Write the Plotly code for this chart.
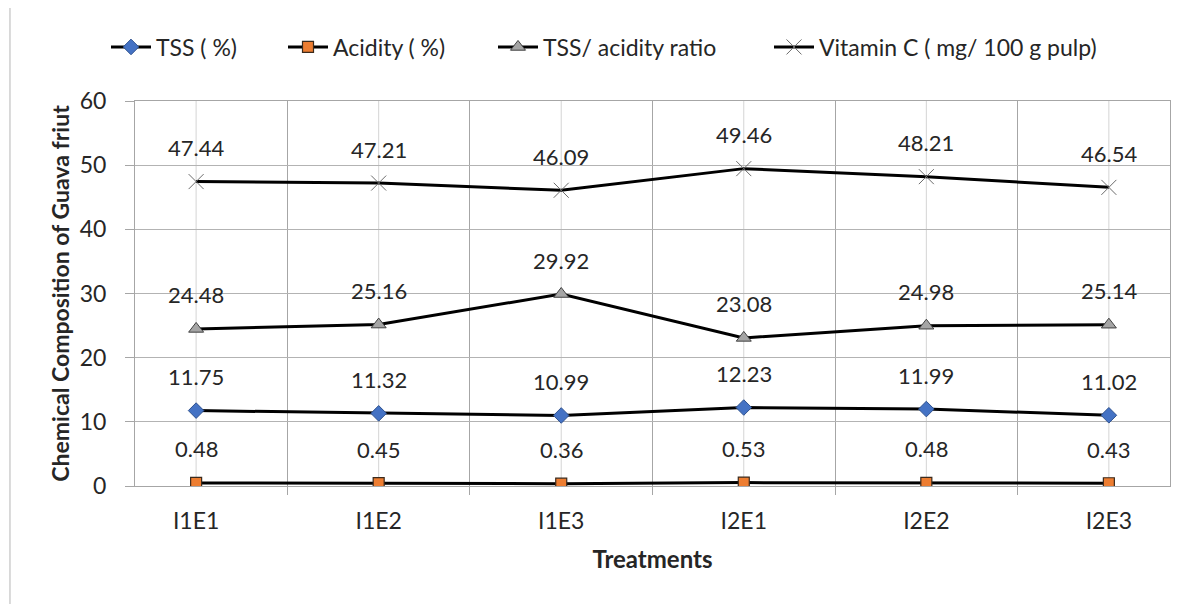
import plotly.graph_objects as go

treatments = ["I1E1", "I1E2", "I1E3", "I2E1", "I2E2", "I2E3"]
tss = [11.75, 11.32, 10.99, 12.23, 11.99, 11.02]
acidity = [0.48, 0.45, 0.36, 0.53, 0.48, 0.43]
ratio = [24.48, 25.16, 29.92, 23.08, 24.98, 25.14]
vitc = [47.44, 47.21, 46.09, 49.46, 48.21, 46.54]
names = ["TSS ( %)", "Acidity ( %)", "TSS/ acidity ratio", "Vitamin C ( mg/ 100 g pulp)"]

FONT = "Lato"
TXT = "#262626"
series = [
    (tss, names[0], dict(symbol="diamond", size=12, color="#4472C4", line=dict(color="#2F528F", width=1))),
    (acidity, names[1], dict(symbol="square", size=11, color="#ED7D31", line=dict(color="#3b2a1c", width=1.2))),
    (ratio, names[2], dict(symbol="triangle-up", size=13, color="#A5A5A5", line=dict(color="#404040", width=1))),
    (vitc, names[3], dict(symbol="x-thin-open", size=15, color="#6b6b6b", line=dict(color="#6b6b6b", width=1))),
]
legend_ids = ["legend", "legend2", "legend3", "legend4"]
legend_x = [98, 275, 485, 761]

fig = go.Figure()
for (vals, nm, mk), lid in zip(series, legend_ids):
    fig.add_trace(go.Scatter(x=treatments, y=vals, name=nm, mode="lines+markers",
                             line=dict(color="#000000", width=3), marker=mk, legend=lid))

annotations = []
for vals, nm, mk in series:
    for t, v in zip(treatments, vals):
        annotations.append(dict(x=t, y=v, xref="x", yref="y", text=f"{v:.2f}", showarrow=False,
                                yshift=34, font=dict(family=FONT, size=22, color=TXT)))

# lighter gridlines through category centres
shapes = []
for t in treatments:
    shapes.append(dict(type="line", xref="x", yref="y", x0=t, x1=t, y0=0, y1=60,
                       line=dict(color="#d4d4d4", width=1), layer="below"))
# outer frame of the chart
shapes.append(dict(type="rect", xref="paper", yref="paper", x0=-0.1208, x1=1.2, y0=-0.6, y1=1.244,
                   line=dict(color="#b5b5b5", width=1)))

layout_legends = {}
for lid, lx in zip(legend_ids, legend_x):
    layout_legends[lid] = dict(orientation="h", xref="container", yref="container", x=lx / 1195,
                               y=1 - 39 / 604, xanchor="left", yanchor="middle",
                               font=dict(family=FONT, size=23, color=TXT), itemwidth=40,
                               bgcolor="rgba(0,0,0,0)")

fig.update_layout(
    width=1195, height=604,
    paper_bgcolor="white", plot_bgcolor="white",
    margin=dict(l=127, r=33, t=93, b=126, autoexpand=False),
    font=dict(family=FONT, size=20, color=TXT),
    showlegend=True,
    annotations=annotations,
    shapes=shapes,
    xaxis=dict(type="category", tickson="boundaries", showgrid=True, gridcolor="#a6a6a6", gridwidth=1,
               ticks="outside", ticklen=8, tickcolor="#a6a6a6", showline=True, linecolor="#a6a6a6",
               mirror=True, automargin=False, ticklabelstandoff=14,
               tickfont=dict(family=FONT, size=23, color=TXT),
               title=dict(text="<b>Treatments</b>", font=dict(family=FONT, size=24, color=TXT), standoff=18)),
    yaxis=dict(range=[0, 60], dtick=10, showgrid=True, gridcolor="#b3b3b3", gridwidth=1, zeroline=False,
               ticks="outside", ticklen=9, tickcolor="#a6a6a6", showline=True, linecolor="#a6a6a6",
               mirror=True, automargin=False, ticklabelstandoff=14,
               tickfont=dict(family=FONT, size=23, color=TXT),
               title=dict(text="<b>Chemical Composition of Guava friut</b>",
                          font=dict(family=FONT, size=23, color=TXT), standoff=3)),
    **layout_legends,
)

fig.write_html("out.html")
